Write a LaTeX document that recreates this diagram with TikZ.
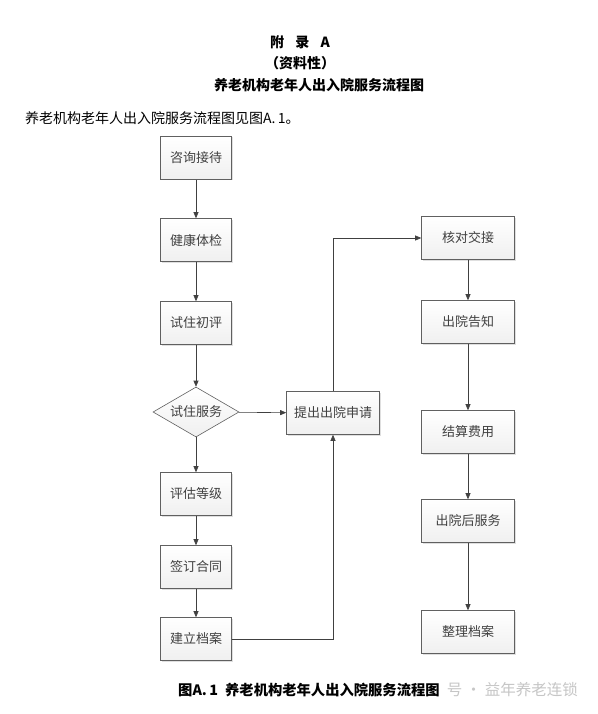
\documentclass[tikz,border=0pt]{standalone}
\usepackage{fontspec}
\setmainfont{Liberation Serif}
\newfontfamily\cjk{Noto Sans CJK SC}
\usetikzlibrary{shapes.geometric,arrows.meta,shadows}
\begin{document}
\begin{tikzpicture}[x=1pt,y=-1pt,
  box/.style={draw=gray!75!black,line width=0.6pt,top color=white,bottom color=gray!12,
    minimum width=71pt,minimum height=43pt,inner sep=1pt,font=\cjk\fontsize{13}{15}\selectfont,
    text=black!75,drop shadow={shadow xshift=1pt,shadow yshift=-1pt,opacity=0.25}},
  wbox/.style={box,minimum width=93pt},
  dia/.style={diamond,draw=gray!75!black,line width=0.6pt,top color=white,bottom color=gray!12,
    minimum width=86pt,minimum height=50pt,aspect=1.7,inner sep=0pt,font=\cjk\fontsize{13}{15}\selectfont,text=black!75},
  conn/.style={draw=black!75,line width=0.6pt,-{Triangle[length=6pt,width=5pt]}},
  ttl/.style={font=\cjk\bfseries\fontsize{14}{16}\selectfont}]
\useasboundingbox (0,0) rectangle (597,714);
\fill[white] (0,0) rectangle (597,714);
\node[ttl] (t1) at (300,42) {附\hspace{0.8em}录\hspace{0.8em}A};
\node[ttl] (t2) at (300,63) {（资料性）};
\node[ttl] (t3) at (319,85) {养老机构老年人出入院服务流程图};
\node[font=\cjk\fontsize{14}{16}\selectfont,anchor=west,inner sep=0pt] (intro) at (25,118) {养老机构老年人出入院服务流程图见图A.\,1。};
\node[box] (a1) at (196,158) {咨询接待};
\node[box] (a2) at (196,240) {健康体检};
\node[box] (a3) at (196,323) {试住初评};
\node[dia] (a4) at (196,412) {试住服务};
\node[box] (a5) at (196,494) {评估等级};
\node[box] (a6) at (196,567) {签订合同};
\node[box] (a7) at (196,639) {建立档案};
\node[wbox] (m) at (333,413) {提出出院申请};
\node[wbox] (b1) at (468,238) {核对交接};
\node[wbox] (b2) at (468,322) {出院告知};
\node[wbox] (b3) at (468,432) {结算费用};
\node[wbox] (b4) at (468,521) {出院后服务};
\node[wbox] (b5) at (468,632) {整理档案};
\draw[conn] (a1) -- (a2);
\draw[conn] (a2) -- (a3);
\draw[conn] (a3) -- (a4);
\draw[conn] (a4) -- (a5);
\draw[conn] (a5) -- (a6);
\draw[conn] (a6) -- (a7);
\draw[conn] (a4) -- (m);
\draw[conn] (a7.east) -| (m.south);
\draw[conn] (m.north) |- (b1.west);
\draw[conn] (b1) -- (b2);
\draw[conn] (b2) -- (b3);
\draw[conn] (b3) -- (b4);
\draw[conn] (b4) -- (b5);
\node[font=\cjk\bfseries\fontsize{14.3}{16}\selectfont,anchor=west,inner sep=0pt] (cap) at (178,690) {图A.\,1\enspace 养老机构老年人出入院服务流程图};
\node[font=\cjk\fontsize{15.5}{17}\selectfont,text=gray!45,anchor=east,inner sep=0pt] (wm) at (578,690) {号 · 益年养老连锁};
\end{tikzpicture}
\end{document}
